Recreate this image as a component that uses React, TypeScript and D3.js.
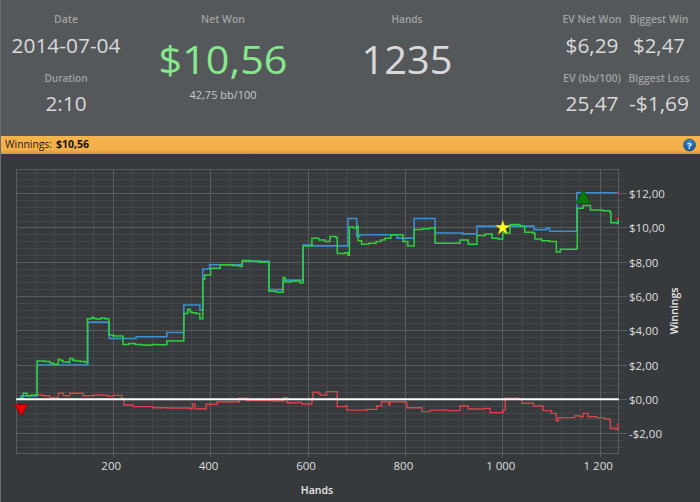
import React from "react";
import * as d3 from "d3";

const W = 700, H = 502;
const evHands = [2,10,44,148,192,247,310,345,378,384,398,465,520,549,590,610,682,700,706,783,818,861,918,947,1064,1090,1096,1152,1237];
const evValues = [0,0.2,2.0,4.5,3.55,3.65,3.9,5.5,5.2,7.6,7.85,8.05,6.4,6.95,9.0,8.95,10.55,9.5,9.6,9.4,10.55,9.7,9.65,10.1,9.9,10.0,9.8,12.05,12.02];
const netHands = [2,10,15,23,31,44,60,70,77,87,92,97,107,111,117,122,132,142,147,156,160,165,175,183,191,200,220,232,245,258,270,280,290,310,345,353,358,362,370,378,384,388,400,420,445,460,465,480,500,520,535,549,553,565,575,583,590,608,622,635,645,657,660,676,682,685,693,700,703,710,725,740,750,758,770,785,795,805,818,835,850,861,890,912,929,947,964,978,990,1000,1015,1035,1045,1062,1066,1080,1096,1110,1118,1142,1152,1153,1165,1180,1205,1220,1222,1235,1237];
const netValues = [0,0.05,0.35,0.2,0.25,2.24,2.2,2.12,2.05,2.32,2.26,2.18,2.14,2.38,2.28,2.24,2.2,2.14,4.7,4.78,4.72,4.68,4.75,4.7,3.75,3.7,3.2,3.25,3.2,3.17,3.15,3.2,3.18,3.4,5.0,5.25,5.1,5.05,5.0,4.7,7.0,7.25,7.65,7.85,7.8,7.75,8.1,8.05,8.0,6.3,6.25,7.1,6.85,6.88,6.9,6.8,8.95,9.4,9.3,9.2,9.5,9.45,8.5,8.55,8.4,10.05,10.0,10.1,9.25,9.05,9.1,9.2,9.3,9.4,9.6,9.6,9.2,8.95,9.9,9.95,10.0,9.1,9.1,9.3,9.05,9.55,9.65,9.4,9.35,9.7,10.2,10.1,9.75,9.7,9.35,9.25,9.2,8.6,8.75,8.75,8.85,11.15,11.3,11.05,11.0,10.9,10.3,10.25,10.55];
const diffHands = [44,56,70,87,98,111,138,159,187,200,218,222,241,282,310,358,363,368,386,391,413,440,459,474,529,550,557,580,587,608,610,621,625,638,659,660,676,680,721,741,751,762,766,768,799,803,834,851,888,912,929,963,974,1001,1005,1032,1039,1063,1083,1100,1110,1114,1141,1148,1158,1165,1175,1192,1209,1220,1221,1233,1237];
const diffValues = [0.25,0.21,0.09,0.35,0.21,0.35,0.21,0.25,0.19,0.23,0.02,-0.33,-0.43,-0.49,-0.51,-0.55,-0.27,-0.55,-0.57,-0.29,-0.16,-0.14,0.06,-0.08,-0.1,0.1,-0.2,-0.18,-0.27,-0.04,0.41,0.35,0.25,0.45,0.45,-0.43,-0.39,-0.63,-0.59,-0.39,-0.14,-0.14,-0.34,-0.14,-0.18,-0.49,-0.72,-0.63,-0.66,-0.39,-0.57,-0.53,-0.78,-0.63,0.06,0,-0.23,-0.39,-0.66,-0.82,-1.25,-1.07,-1.07,-0.96,-1.02,-0.82,-1.02,-1.07,-1.15,-1.31,-1.7,-1.76,-1.46];
const xMajor = [200,400,600,800,1000,1200];
const yMajor = [12,10,8,6,4,2,0,-2];
const lossPoint = [11,-0.52];
const winPoint = [1165,11.68];
const starPoint = [1000,10];
const endDots = [[1236,12.02],[1236,10.55],[1236,-1.46]];

const x = d3.scaleLinear().domain([0,200]).range([15.8,113.2]);
const y = d3.scaleLinear().domain([0,12]).range([399.3,193.6]);
const left = x(1), right = x(1238), top = y(13.4), bottom = y(-3.15);
const xMinor = d3.range(40,1238,40);
const yMinor = d3.range(-3,13.3,0.4).map(v => Math.round(v*10)/10 + 0.2).filter(v => y(v) > top && y(v) < bottom);
const money = (v: number) => (v < 0 ? "-" : "") + "$" + Math.abs(v).toFixed(2).replace(".", ",");
const handFmt = (v: number) => v >= 1000 ? `${Math.floor(v/1000)} ${String(v%1000).padStart(3,"0")}` : String(v);
const path = (hs: number[], vs: number[]) => d3.line<number>().x(h => x(h)).y((_, i) => y(vs[i])).curve(d3.curveStepAfter)(hs) as string;
const sym = (t: d3.SymbolType, s: number) => d3.symbol().type(t).size(s)() as string;
const FONT = "'Open Sans', sans-serif";

function T({ x: tx, y: ty, s, c, a = "middle", w = 400, children, tl }: any) {
  return <text x={tx} y={ty} fontSize={s} fill={c} textAnchor={a} fontWeight={w} fontFamily={FONT}
    textLength={tl} lengthAdjust={tl ? "spacingAndGlyphs" : undefined}>{children}</text>;
}

export default function App() {
  const lab = "#a0a2a4", val = "#d9d9d9";
  return (
    <svg width={W} height={H} viewBox={`0 0 ${W} ${H}`} style={{ position: "absolute", left: 0, top: 0, display: "block" }}>
      <defs>
        <linearGradient id="bar" x1="0" x2="0" y1="0" y2="1">
          <stop offset="0" stopColor="#f6b44e" /><stop offset="0.75" stopColor="#f4af48" /><stop offset="1" stopColor="#d9973a" />
        </linearGradient>
        <radialGradient id="help" cx="0.5" cy="0.3" r="0.8">
          <stop offset="0" stopColor="#3d8fd6" /><stop offset="1" stopColor="#0b4a92" />
        </radialGradient>
      </defs>
      <rect width={W} height={136} fill="#55585b" />
      <rect y={136} width={W} height={18} fill="url(#bar)" />
      <rect y={154} width={W} height={H-154} fill="#373a3d" />
      <rect width={1} height={H} fill="#6b6e70" />

      <T x={66} y={23} s={11} w={600} c={lab} tl={24}>Date</T>
      <T x={66} y={53} s={20.5} c={val} tl={109}>2014-07-04</T>
      <T x={66} y={82} s={11} w={600} c={lab} tl={43}>Duration</T>
      <T x={66} y={111} s={20.5} c={val} tl={41}>2:10</T>
      <T x={223} y={23} s={11} w={600} c={lab} tl={44}>Net Won</T>
      <T x={223} y={74} s={39} c="#86e88c" tl={129}>$10,56</T>
      <T x={223} y={99} s={11} c="#c6c8c9" tl={67}>42,75 bb/100</T>
      <T x={407} y={23} s={11} w={600} c={lab} tl={31}>Hands</T>
      <T x={407} y={74} s={39} c={val} tl={91}>1235</T>
      <T x={592} y={23} s={11} w={600} c={lab} tl={59}>EV Net Won</T>
      <T x={592} y={53} s={20.5} c={val} tl={53}>$6,29</T>
      <T x={592} y={82} s={11} w={600} c={lab} tl={58}>EV (bb/100)</T>
      <T x={592} y={111} s={20.5} c={val} tl={53}>25,47</T>
      <T x={659} y={23} s={11} w={600} c={lab} tl={59}>Biggest Win</T>
      <T x={659} y={53} s={20.5} c={val} tl={52}>$2,47</T>
      <T x={659} y={82} s={11} w={600} c={lab} tl={61}>Biggest Loss</T>
      <T x={659} y={111} s={20.5} c={val} tl={60}>-$1,69</T>

      <T x={5} y={148} s={10} c="#1a1a1a" a="start" tl={47}>Winnings:</T>
      <T x={56} y={148} s={10} c="#111" a="start" w={700} tl={33}>$10,56</T>
      <circle cx={689.5} cy={145} r={6} fill="url(#help)" stroke="#0a3a75" strokeWidth={0.5} />
      <T x={689.5} y={148.5} s={9} c="#fff" w={700}>?</T>

      <g stroke="#45484b" strokeWidth={1} shapeRendering="crispEdges">
        {xMinor.map(v => <line key={v} x1={x(v)} x2={x(v)} y1={top} y2={bottom + 4} />)}
        {yMinor.map(v => <line key={v} x1={left} x2={right + 4} y1={y(v)} y2={y(v)} />)}
      </g>
      <g stroke="#5a5d5f" strokeWidth={1} shapeRendering="crispEdges">
        {xMajor.map(v => <line key={v} x1={x(v)} x2={x(v)} y1={top} y2={bottom + 4} />)}
        {yMajor.map(v => <line key={v} x1={left} x2={right + 8} y1={y(v)} y2={y(v)} />)}
        <line x1={left} x2={right} y1={top} y2={top} />
        <line x1={left} x2={right} y1={bottom} y2={bottom} />
        <line x1={left} x2={left} y1={top} y2={bottom} />
        <line x1={right} x2={right} y1={top} y2={bottom} />
      </g>
      <path d={path(evHands, evValues)} fill="none" stroke="#3b8fd0" strokeWidth={1.6} />
      <path d={path(diffHands, diffValues)} fill="none" stroke="#d8434b" strokeWidth={1.4} />
      <path d={path(netHands, netValues)} fill="none" stroke="#2fd03f" strokeWidth={1.5} />
      <line x1={left} x2={right} y1={y(0)} y2={y(0)} stroke="#ffffff" strokeWidth={2} />
      {endDots.map((d, i) => <circle key={i} cx={x(d[0])} cy={y(d[1])} r={1} fill="#ff2020" />)}

      <path d={sym(d3.symbolTriangle, 72)} transform={`translate(${x(lossPoint[0])},${y(lossPoint[1])}) rotate(180)`} fill="#f00000" stroke="#990000" />
      <path d={sym(d3.symbolTriangle, 100)} transform={`translate(${x(winPoint[0])},${y(winPoint[1])})`} fill="#0a7a0a" stroke="#0a5a0a" />
      <path d={sym(d3.symbolStar, 62)} transform={`translate(${x(starPoint[0])},${y(starPoint[1])})`} fill="#ffff20" stroke="#d8d020" strokeWidth={0.5} />

      {yMajor.map(v => <T key={v} x={629} y={y(v) + 4.5} s={11.5} c="#dedede" a="start">{money(v)}</T>)}
      {xMajor.map(v => <T key={v} x={x(v) - 2} y={470} s={11.5} c="#dedede">{handFmt(v)}</T>)}
      <T x={317} y={494} s={10.5} c="#e8e8e8" w={600}>Hands</T>
      <g transform="translate(678,311) rotate(-90)"><T x={0} y={0} s={10.5} c="#e8e8e8" w={600}>Winnings</T></g>
    </svg>
  );
}
